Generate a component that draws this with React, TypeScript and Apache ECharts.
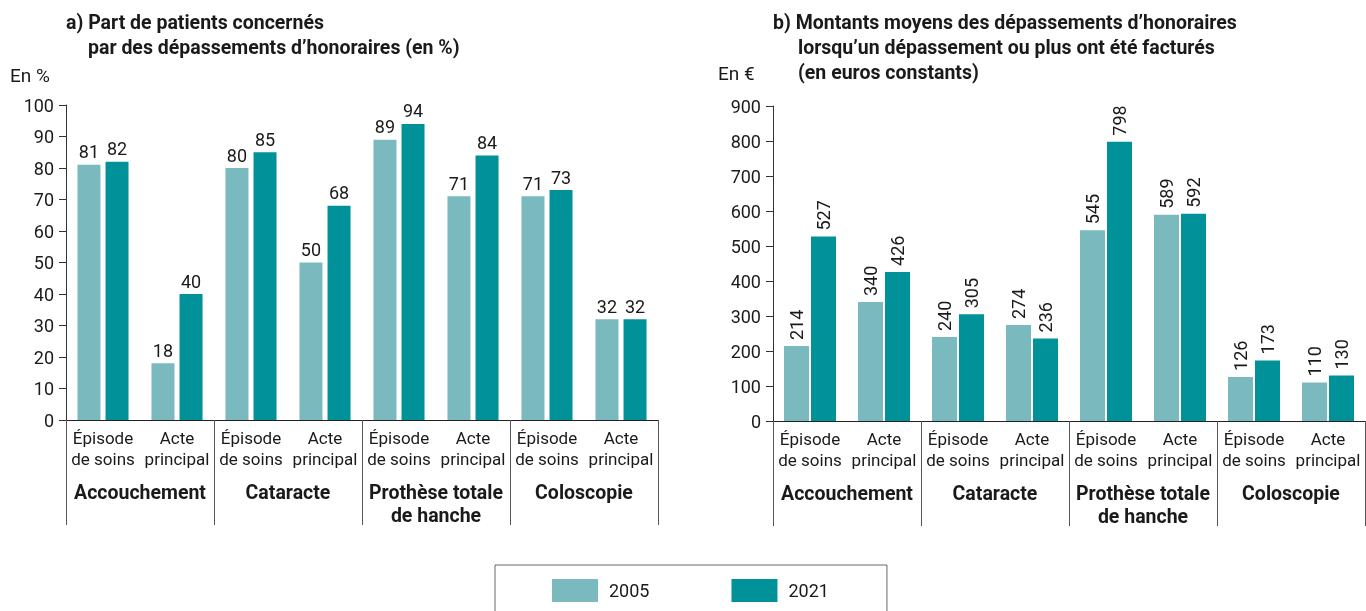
import React, { useEffect, useRef } from "react";
import * as echarts from "echarts";

const subCategories = ["Épisode\nde soins", "Acte\nprincipal", "Épisode\nde soins", "Acte\nprincipal", "Épisode\nde soins", "Acte\nprincipal", "Épisode\nde soins", "Acte\nprincipal"];
const groups = ["Accouchement", "Cataracte", "Prothèse totale\nde hanche", "Coloscopie"];
const seriesNames = ["2005", "2021"];
const shareValues2005 = [81, 18, 80, 50, 89, 71, 71, 32];
const shareValues2021 = [82, 40, 85, 68, 94, 84, 73, 32];
const amountValues2005 = [214, 340, 240, 274, 545, 589, 126, 110];
const amountValues2021 = [527, 426, 305, 236, 798, 592, 173, 130];

const C2005 = "#7ABABF";
const C2021 = "#009298";
const TXT = "#1a1a1a";
const FONT = "Roboto, 'Open Sans', sans-serif";

export default function App() {
  const ref = useRef<HTMLDivElement>(null);
  useEffect(() => {
    if (!ref.current) return;
    const chart = echarts.init(ref.current, null, { renderer: "svg" });
    const grids = [
      { left: 66, top: 105, width: 592, height: 315 },
      { left: 773, top: 106, width: 592, height: 315 },
    ];
    const xAxes: any[] = [];
    const yAxes: any[] = [];
    [0, 1].forEach((g) => {
      xAxes.push({
        type: "category",
        gridIndex: g,
        data: subCategories,
        position: "bottom",
        axisLine: { show: true, lineStyle: { color: "#222", width: 1 } },
        axisTick: { show: false },
        axisLabel: { interval: 0, margin: 7, fontSize: 17, lineHeight: 21, color: TXT, fontFamily: FONT },
      });
      xAxes.push({
        type: "category",
        gridIndex: g,
        data: groups,
        position: "bottom",
        axisLine: { show: false },
        axisTick: { show: true, length: 105, interval: 0, lineStyle: { color: "#555", width: 1 } },
        axisLabel: { interval: 0, margin: 61, fontSize: 19.5, lineHeight: 23, fontWeight: "bold", color: TXT, fontFamily: FONT },
      });
      yAxes.push({
        type: "value",
        gridIndex: g,
        min: 0,
        max: g === 0 ? 100 : 900,
        interval: g === 0 ? 10 : 100,
        splitLine: { show: false },
        axisLine: { show: true, lineStyle: { color: "#333", width: 1 } },
        axisTick: { show: true, length: 7, lineStyle: { color: "#333" } },
        axisLabel: { margin: 12, fontSize: 18, color: TXT, fontFamily: FONT },
      });
    });
    const leftLabel = { show: true, position: "top", distance: 4, fontSize: 18, color: TXT, fontFamily: FONT };
    const rightLabel = { show: true, position: "top", distance: 6, rotate: 90, align: "left", verticalAlign: "middle", fontSize: 18, color: TXT, fontFamily: FONT };
    const series: any[] = [
      { name: seriesNames[0], type: "bar", xAxisIndex: 0, yAxisIndex: 0, data: shareValues2005, barWidth: 23, barGap: "22%", itemStyle: { color: C2005 }, label: leftLabel },
      { name: seriesNames[1], type: "bar", xAxisIndex: 0, yAxisIndex: 0, data: shareValues2021, barWidth: 23, barGap: "22%", itemStyle: { color: C2021 }, label: leftLabel },
      { name: seriesNames[0], type: "bar", xAxisIndex: 2, yAxisIndex: 1, data: amountValues2005, barWidth: 25, barGap: "8%", itemStyle: { color: C2005 }, label: rightLabel },
      { name: seriesNames[1], type: "bar", xAxisIndex: 2, yAxisIndex: 1, data: amountValues2021, barWidth: 25, barGap: "8%", itemStyle: { color: C2021 }, label: rightLabel },
    ];
    const titleStyle = (text: string, x: number, y: number, bold = true) => ({
      type: "text",
      x,
      y,
      style: { text, fontSize: bold ? 19.5 : 19, fontWeight: bold ? "bold" : "normal", fill: TXT, fontFamily: FONT, textVerticalAlign: "middle" },
    });
    chart.setOption({
      animation: false,
      textStyle: { fontFamily: FONT },
      grid: grids,
      xAxis: xAxes,
      yAxis: yAxes,
      series,
      legend: {
        data: seriesNames,
        left: 495,
        top: 565,
        orient: "horizontal",
        icon: "rect",
        itemWidth: 46,
        itemHeight: 23,
        itemGap: 82,
        padding: [14, 58, 14, 57],
        borderColor: "#666",
        borderWidth: 1,
        textStyle: { fontSize: 18, color: TXT, fontFamily: FONT, padding: [0, 0, 0, 6] },
        selectedMode: false,
      },
      graphic: [
        titleStyle("a) Part de patients concernés", 66, 22),
        titleStyle("par des dépassements d’honoraires (en %)", 88, 47),
        titleStyle("En %", 10, 75, false),
        titleStyle("b) Montants moyens des dépassements d’honoraires", 773, 22),
        titleStyle("lorsqu’un dépassement ou plus ont été facturés", 798, 47),
        titleStyle("(en euros constants)", 798, 72),
        titleStyle("En €", 718, 73, false),
      ],
    });
    return () => chart.dispose();
  }, []);
  return <div ref={ref} style={{ position: "fixed", left: 0, top: 0, width: 1366, height: 611 }} />;
}
